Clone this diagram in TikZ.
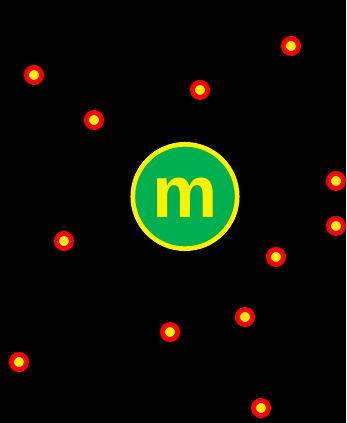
\documentclass[tikz,border=0pt]{standalone}
\usepackage{fontspec}
\setmainfont{Liberation Sans}
\usepackage{xcolor}
\definecolor{hubgreen}{RGB}{0,176,80}

\begin{document}
\begin{tikzpicture}[x=0.75pt,y=-0.75pt]
  % Particles scattered round a central hub
  \tikzset{particle/.style={circle,draw=red,fill=yellow,line width=3.75pt,minimum size=11.25pt,inner sep=0pt},
           hub/.style={circle,draw=yellow,fill=hubgreen,line width=3.5pt,minimum size=78.3pt,inner sep=0pt}}
  % background
  \fill[black] (0,0) rectangle (346,423);
  % hub
  \node[hub] (hub) at (185,196.5) {};
  \node[text=yellow,font=\bfseries\fontsize{55}{55}\selectfont,inner sep=0pt] (label) at (185.5,197.5) {m};
  % particles
  \node[particle] (p1) at (34,75) {};
  \node[particle] (p2) at (291,46) {};
  \node[particle] (p3) at (200,90) {};
  \node[particle] (p4) at (94,120) {};
  \node[particle] (p5) at (336,181) {};
  \node[particle] (p6) at (336,226) {};
  \node[particle] (p7) at (64,241) {};
  \node[particle] (p8) at (276,257) {};
  \node[particle] (p9) at (245,317) {};
  \node[particle] (p10) at (170,332) {};
  \node[particle] (p11) at (19,362) {};
  \node[particle] (p12) at (261,408) {};
\end{tikzpicture}
\end{document}
